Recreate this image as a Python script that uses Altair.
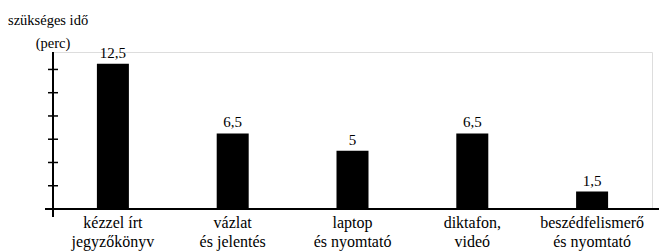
import altair as alt
import pandas as pd

categories = [
    "kézzel írt|jegyzőkönyv",
    "vázlat|és jelentés",
    "laptop|és nyomtató",
    "diktafon,|videó",
    "beszédfelismerő|és nyomtató",
]
values = [12.5, 6.5, 5, 6.5, 1.5]
value_labels = ["12,5", "6,5", "5", "6,5", "1,5"]
y_ticks = [0, 2, 4, 6, 8, 10, 12]
y_max = 13.5
y_title_1 = "szükséges idő"
y_title_2 = "(perc)"

FONT = "Liberation Serif"
W, H = 599, 157

df = pd.DataFrame({"cat": categories, "val": values, "lab": value_labels})
ticks_df = pd.DataFrame({"t": y_ticks})

yscale = alt.Scale(domain=[0, y_max], nice=False, zero=True)
xscale = alt.Scale(paddingInner=0, paddingOuter=0)

base = alt.Chart(df)

bars = base.mark_bar(size=32, color="black").encode(
    x=alt.X("cat:N", sort=None, scale=xscale,
            axis=alt.Axis(title=None, domain=False, ticks=False, labelAngle=0,
                          labelExpr="split(datum.label, '|')",
                          labelFont=FONT, labelFontSize=16, labelColor="black",
                          labelLineHeight=19, labelPadding=5, labelBaseline="top")),
    y=alt.Y("val:Q", scale=yscale, axis=None),
)

texts = base.mark_text(font=FONT, fontSize=15, color="black", baseline="alphabetic", dy=-6).encode(
    x=alt.X("cat:N", sort=None, scale=xscale),
    y=alt.Y("val:Q", scale=yscale),
    text="lab:N",
)

yline = alt.Chart(pd.DataFrame({"a": [0]})).mark_rule(color="black", strokeWidth=2).encode(
    x=alt.value(0), y=alt.value(0), y2=alt.value(H + 8)
)
xline = alt.Chart(pd.DataFrame({"a": [0]})).mark_rule(color="black", strokeWidth=2).encode(
    x=alt.value(-8), x2=alt.value(W + 9), y=alt.value(H)
)
yticks = alt.Chart(ticks_df).mark_rule(color="black", strokeWidth=1.5).encode(
    x=alt.value(-5), x2=alt.value(5), y=alt.Y("t:Q", scale=yscale)
)

t1 = alt.Chart(pd.DataFrame({"s": [y_title_1]})).mark_text(
    font=FONT, fontSize=14.5, color="black", align="left", baseline="alphabetic"
).encode(x=alt.value(-45), y=alt.value(-27), text="s:N")
t2 = alt.Chart(pd.DataFrame({"s": [y_title_2]})).mark_text(
    font=FONT, fontSize=14.5, color="black", align="center", baseline="alphabetic"
).encode(x=alt.value(0), y=alt.value(-4), text="s:N")

chart = alt.layer(bars, texts, xline, yline, yticks, t1, t2).properties(
    width=W, height=H,
    autosize=alt.AutoSizeParams(type="none"),
    padding={"left": 45, "top": 44, "right": 7, "bottom": 50},
).configure_view(stroke=None).configure(background="white")

chart.save("out.html", embed_options={"renderer": "svg", "actions": False})
